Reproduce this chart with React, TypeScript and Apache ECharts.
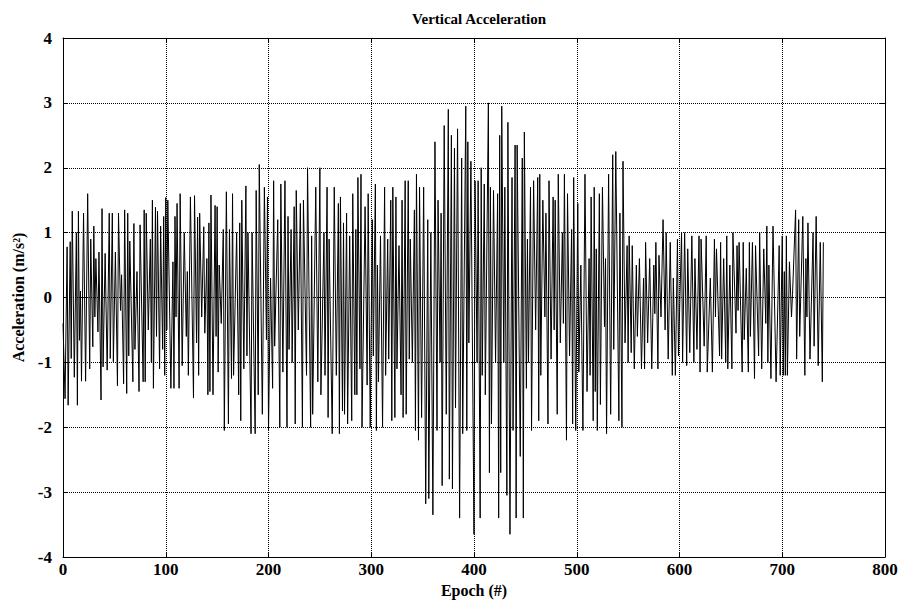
import React, { useEffect, useRef } from "react";
import * as echarts from "echarts";

// Epoch (#) of each turning point of the trace
const epochs: number[] = [
  0, 2, 4, 5, 7, 8, 9, 11, 13, 14, 15, 16, 17, 18, 20, 22, 24, 26, 27, 29, 30, 31, 32, 34, 35, 37, 38, 39, 41, 43, 45, 46, 48, 49, 51, 53, 54, 56, 57, 59, 60, 62, 63,
  64, 65, 68, 69, 70, 72, 74, 75, 78, 79, 80, 81, 83, 85, 86, 87, 88, 90, 91, 92, 94, 95, 97, 98, 99, 100, 101, 102, 105, 107, 108, 109, 110, 111, 113, 114, 116, 118, 120, 121, 122, 124,
  127, 128, 130, 131, 132, 133, 135, 137, 138, 140, 141, 142, 143, 144, 146, 148, 149, 150, 151, 152, 154, 156, 157, 159, 161, 162, 164, 165, 166, 169, 171, 172, 173, 174, 176, 178, 179, 180, 183, 184, 187,
  188, 190, 191, 194, 196, 198, 199, 200, 202, 204, 205, 206, 209, 211, 212, 214, 216, 218, 219, 220, 222, 223, 225, 226, 227, 229, 231, 233, 234, 237, 238, 241, 242, 243, 246, 248,
  250, 251, 254, 255, 257, 258, 259, 262, 264, 266, 268, 269, 270, 272, 273, 274, 276, 277, 279, 281, 282, 284, 285, 286, 287, 289, 290, 291, 294, 296, 297, 299, 301, 302, 304, 305, 306, 307, 309, 311,
  313, 314, 316, 317, 319, 320, 321, 323, 324, 325, 327, 329, 330, 331, 333, 334, 336, 337, 338, 340, 342, 343, 344, 346, 347, 349, 351, 353, 355, 356, 358, 360, 362, 364, 365, 367, 368, 369, 371, 373, 375,
  376, 378, 379, 381, 382, 384, 386, 388, 389, 392, 393, 394, 395, 397, 400, 401, 403, 404, 406, 407, 408, 410, 411, 414, 415, 416, 417, 419, 421, 423, 424, 425, 426, 427, 429, 430, 432, 433,
  435, 437, 438, 440, 441, 442, 445, 447, 448, 449, 451, 452, 453, 455, 456, 458, 460, 462, 463, 464, 465, 467, 469, 470, 472, 473, 475, 477, 478, 479, 481, 482, 484, 486, 487, 488, 490, 491, 493, 495, 496, 497,
  499, 501, 502, 504, 506, 508, 510, 512, 513, 514, 516, 517, 518, 519, 520, 522, 523, 525, 527, 528, 529, 531, 533, 535, 536, 538, 541, 542, 544, 545, 547, 549, 550, 551, 553, 554, 556, 558, 559, 561,
  563, 565, 566, 567, 569, 571, 573, 575, 576, 577, 579, 580, 582, 584, 586, 587, 589, 591, 593, 594, 596, 598, 599, 602, 603, 605, 607, 608, 610, 612, 614, 615, 617, 619, 620, 621, 624,
  626, 627, 630, 632, 634, 635, 636, 639, 640, 641, 643, 645, 646, 647, 649, 651, 652, 655, 656, 657, 658, 661, 662, 663, 665, 667, 668, 669, 671, 673, 674, 677, 678, 680, 682, 684, 685,
  686, 687, 689, 691, 694, 697, 698, 700, 701, 702, 703, 704, 705, 707, 709, 710, 713, 714, 716, 717, 720, 722, 723, 724, 725, 727, 730, 731, 733, 735, 737, 739, 740,
];

// Vertical acceleration (m/s^2) at those epochs
const accel: number[] = [
  -0.4, -1.56, 0.78, -1.66, 0.86, -0.94, 1.33, -1.23, 1.0, -1.66, 1.33, -0.66, 0.1, -1.29, 1.3, -1.29, 1.6, -1.1, 0.9, -0.76, 1.1, -0.3, 0.6, -0.53, 0.7, -1.58, 1.37, -1.07, 0.68, -1.12, 1.3, -0.94, 1.3, -0.99, 0.7, -1.36, 1.3, -0.2, 0.35, -1.33, 1.35, -1.48, 1.3,
  -0.9, 0.87, -1.3, 1.14, -0.8, 0.4, -1.45, 1.12, -1.3, 1.35, -1.3, 1.3, -0.5, 0.9, -1.0, 1.5, -1.4, 1.39, -0.6, 1.33, -1.1, 1.1, -0.8, 1.25, -1.2, 1.54, -0.5, 1.5, -1.4, 0.55, -1.4, 1.25, -0.3, 1.45, -1.4, 1.6, -1.05, 1.0, -0.6, 0.4, -1.2, 1.55,
  -1.55, 1.57, -0.7, 1.24, -1.2, 1.3, -0.3, 1.09, -0.55, 0.6, -1.5, 1.15, -1.45, 1.58, -1.5, 1.42, -0.6, 1.4, -1.15, 0.5, -0.4, 1.05, -2.05, 1.63, -1.95, 1.05, -1.25, 1.6, -1.2, 1.0, -1.5, 1.15, -1.9, 1.5, -1.1, 1.72, -0.9, 1.0, -2.1, 1.0, -2.1,
  1.65, -1.5, 2.05, -1.8, 1.7, -0.65, 1.55, -2.05, 0.3, -1.4, 1.8, -0.75, 1.2, -2.0, 1.75, -1.15, 1.8, -2.0, 1.25, -0.8, 1.05, -1.0, 1.4, -1.95, 1.65, -0.5, 1.45, -2.0, 1.5, -1.2, 2.0, -2.0, 0.95, -1.8, 1.7, -1.3,
  2.0, -1.5, 1.0, -1.2, 1.7, -1.85, 0.9, -2.1, 1.7, -1.2, 1.45, -2.1, 1.55, -1.75, 1.15, -1.8, 1.3, -1.95, 0.95, -1.9, 1.6, -1.5, 1.05, -1.5, 1.85, -1.1, 1.9, -2.0, 1.4, -1.35, 1.6, -2.0, 1.2, -0.9, 1.75, -2.05, 0.5, -1.3, 0.95, -2.0,
  1.7, -1.2, 0.9, -0.95, 1.5, -1.9, 1.7, -1.85, 1.55, -1.1, 0.8, -1.5, 1.5, -1.85, 1.8, -1.8, 1.8, -0.95, 0.9, -1.0, 1.35, -2.05, 1.9, -2.2, 1.7, -1.85, 1.7, -3.18, 1.2, -3.1, 1.0, -3.35, 2.4, -2.05, 1.5, -1.0, 1.3, -2.9, 2.65, -1.8, 2.9,
  -2.8, 2.5, -2.95, 2.3, -1.7, 2.6, -3.4, 2.15, -2.1, 2.95, -2.05, 2.4, -0.7, 2.1, -3.65, 1.8, -1.0, 1.8, -3.4, 2.0, -1.2, 1.75, -1.5, 3.0, -2.7, 1.7, -1.95, 1.65, -1.0, 1.6, -3.4, 2.5, -2.7, 2.95, -1.0, 1.7, -3.05, 2.7,
  -3.65, 1.85, -2.05, 2.35, -3.4, 2.35, -2.45, 2.15, -3.4, 2.55, -1.4, 0.9, -1.0, 1.7, -2.05, 1.8, -0.5, 1.85, -1.9, 1.9, -1.2, 1.5, -0.3, 1.3, -1.95, 1.8, -0.95, 1.55, -0.5, 1.5, -1.8, 1.9, -0.7, 1.0, -0.4, 1.9, -2.2, 1.6, -0.9, 1.05, -1.95, 1.85,
  -2.05, 1.45, -1.15, 0.5, -2.05, 1.9, -1.45, 0.6, -1.2, 1.55, -1.9, 1.7, -1.45, 0.75, -2.05, 1.6, -1.65, 1.7, -0.45, 0.6, -2.1, 1.9, -1.8, 2.2, -0.8, 2.25, -1.9, 1.3, -2.0, 2.1, -0.7, 0.8, -1.0, 0.95, -0.85, 0.8, -1.1, 0.5, -0.6, 0.6,
  -1.1, 0.3, -1.1, 0.85, -0.7, 0.6, -1.1, 0.5, -0.25, 0.85, -1.1, 0.65, -0.3, 1.2, -0.5, 1.0, -0.95, 0.85, -1.2, 0.3, -1.2, 0.9, -0.9, 1.0, -1.0, 1.0, -1.05, 0.75, -0.85, 0.95, -1.0, 0.6, -0.8, 0.95, -1.15, 0.9, -0.75,
  0.95, -1.15, 0.3, -1.15, 0.9, -0.3, 0.75, -0.9, 0.85, -0.95, 0.6, -1.0, 0.95, -1.1, 0.5, -1.1, 1.0, -0.55, 0.8, -0.2, 0.85, -1.15, 0.85, -0.65, 0.45, -1.15, 0.85, -0.6, 0.85, -1.25, 0.8, -0.9, 1.0, -1.1, 0.75, -0.4, 1.1,
  -1.0, 0.5, -1.25, 1.1, -1.3, 0.8, -1.2, 0.95, -1.2, 0.4, -1.2, 0.95, -1.2, 0.55, -0.3, 0.05, 1.35, -0.95, 1.2, -0.6, 1.25, -1.2, 0.6, -0.3, 1.15, -0.95, 1.0, -0.75, 1.25, -1.05, 0.85, -1.3, 0.85,
];

const TITLE = "Vertical Acceleration";
const X_NAME = "Epoch (#)";
const Y_NAME = "Acceleration (m/s\u00B2)";

export default function App() {
  const ref = useRef<HTMLDivElement>(null);

  useEffect(() => {
    document.body.style.margin = "0";
    const chart = echarts.init(ref.current as HTMLDivElement, null, { renderer: "svg" });
    const font = "'Liberation Serif', 'Times New Roman', serif";
    const data = epochs.map((e, i) => [e, accel[i]]);
    const label = { color: "#000", fontFamily: font, fontWeight: "bold", fontSize: 17 };
    const axisLine = { show: true, onZero: false, lineStyle: { color: "#000", width: 1 } };
    const tick = { show: true, inside: true, length: 5, lineStyle: { color: "#000", width: 1 } };
    const split = { show: true, lineStyle: { color: "#000", type: "dotted", width: 1 } };

    chart.setOption({
      animation: false,
      backgroundColor: "#fff",
      title: {
        text: TITLE,
        left: 474,
        top: 6,
        textAlign: "center",
        textStyle: { fontFamily: font, fontWeight: "bold", fontSize: 15, color: "#000" },
      },
      grid: { left: 63, right: 16, top: 38, bottom: 51 },
      xAxis: [
        {
          type: "value",
          min: 0,
          max: 800,
          interval: 100,
          position: "bottom",
          name: X_NAME,
          nameLocation: "middle",
          nameGap: 17,
          nameTextStyle: { ...label, fontSize: 16 },
          axisLine,
          axisTick: tick,
          axisLabel: { ...label, margin: 4 },
          splitLine: split,
        },
        {
          type: "value",
          min: 0,
          max: 800,
          interval: 100,
          position: "top",
          axisLine,
          axisTick: tick,
          axisLabel: { show: false },
          splitLine: { show: false },
        },
      ],
      yAxis: [
        {
          type: "value",
          min: -4,
          max: 4,
          interval: 1,
          position: "left",
          name: Y_NAME,
          nameLocation: "middle",
          nameGap: 34,
          nameTextStyle: { ...label, fontSize: 16 },
          axisLine,
          axisTick: tick,
          axisLabel: { ...label, margin: 11 },
          splitLine: split,
        },
        {
          type: "value",
          min: -4,
          max: 4,
          interval: 1,
          position: "right",
          axisLine,
          axisTick: tick,
          axisLabel: { show: false },
          splitLine: { show: false },
        },
      ],
      series: [
        {
          type: "line",
          data,
          xAxisIndex: 0,
          yAxisIndex: 0,
          symbol: "none",
          showSymbol: false,
          lineStyle: { color: "#000", width: 1 },
        },
      ],
    });
    return () => chart.dispose();
  }, []);

  return <div ref={ref} style={{ width: 901, height: 608 }} />;
}
